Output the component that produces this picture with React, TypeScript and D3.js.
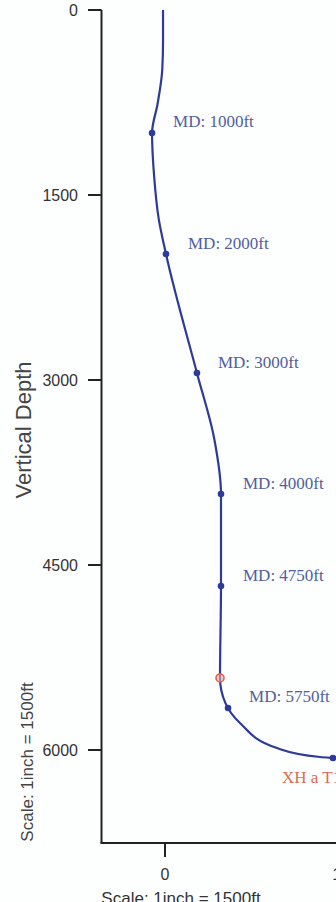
import React from "react";
import * as d3 from "d3";

const pathX = [-16, -16, -22, -60, -105, -88, -50, 8, 259, 400, 454, 454, 446, 490, 608, 908, 1257, 1362, 1650];
const pathTVD = [0, 250, 480, 760, 997, 1350, 1700, 1978, 2943, 3480, 3924, 4670, 5416, 5620, 5781, 5984, 6057, 6065, 6082];

const markerLabels = ["MD: 1000ft", "MD: 2000ft", "MD: 3000ft", "MD: 4000ft", "MD: 4750ft", "MD: 5750ft"];
const markerX = [-105, 8, 259, 454, 454, 511];
const markerTVD = [997, 1978, 2943, 3924, 4670, 5659];

const targetX = 1362;
const targetTVD = 6065;
const targetLabel = "XH a T1";

const kopX = 446;
const kopTVD = 5416;

const yTicks = [0, 1500, 3000, 4500, 6000];
const xTicks = [0, 1500];

export default function App() {
  const W = 336, H = 902;
  const x = d3.scaleLinear().domain([0, 1500]).range([165, 350]);
  const y = d3.scaleLinear().domain([0, 1500]).range([10, 195]);
  const axisX = 101.5;
  const axisY = 843;

  const pts: [number, number][] = pathX.map((v, i) => [v, pathTVD[i]]);
  const line = d3
    .line<[number, number]>()
    .x((d) => x(d[0]))
    .y((d) => y(d[1]))
    .curve(d3.curveMonotoneY);

  const lineColor = "#2d3a98";
  const textBlue = "#51609f";

  return (
    <svg
      width={W}
      height={H}
      style={{ position: "absolute", left: 0, top: 0, background: "#fdfefe" }}
    >
      {/* y axis */}
      <line x1={axisX} x2={axisX} y1={y(0)} y2={axisY} stroke="#222" strokeWidth={2} />
      {yTicks.map((t) => (
        <g key={"yt" + t}>
          <line x1={88} x2={axisX} y1={y(t)} y2={y(t)} stroke="#222" strokeWidth={2} />
          <text
            x={78}
            y={y(t) + 5.5}
            textAnchor="end"
            fontFamily="Liberation Sans, Arial, sans-serif"
            fontSize={16}
            fill="#333"
          >
            {t}
          </text>
        </g>
      ))}
      {/* x axis */}
      <line x1={axisX - 1} x2={W} y1={axisY} y2={axisY} stroke="#222" strokeWidth={2} />
      {xTicks.map((t) => (
        <g key={"xt" + t}>
          <line x1={x(t)} x2={x(t)} y1={axisY} y2={857} stroke="#222" strokeWidth={2} />
          <text
            x={x(t)}
            y={880}
            textAnchor="middle"
            fontFamily="Liberation Sans, Arial, sans-serif"
            fontSize={16}
            fill="#333"
          >
            {t}
          </text>
        </g>
      ))}
      <text
        x={181}
        y={904}
        textAnchor="middle"
        fontFamily="Liberation Sans, Arial, sans-serif"
        fontSize={17}
        fill="#333"
      >
        Scale: 1inch = 1500ft
      </text>
      <text
        transform="translate(31,430) rotate(-90)"
        textAnchor="middle"
        fontFamily="Liberation Sans, Arial, sans-serif"
        fontSize={22}
        fill="#444"
      >
        Vertical Depth
      </text>
      <text
        transform="translate(33,762) rotate(-90)"
        textAnchor="middle"
        fontFamily="Liberation Sans, Arial, sans-serif"
        fontSize={17}
        fill="#444"
      >
        Scale: 1inch = 1500ft
      </text>

      {/* well path */}
      <path d={line(pts) || ""} fill="none" stroke={lineColor} strokeWidth={2.2} />

      {markerX.map((mx, i) => (
        <g key={"m" + i}>
          <circle cx={x(mx)} cy={y(markerTVD[i])} r={3.3} fill={lineColor} />
        </g>
      ))}
      {markerLabels.map((lab, i) => {
        const offs = [[21, -6], [22, -5], [21, -5], [22, -5], [22, -5], [21, -6]];
        return (
          <text
            key={"l" + i}
            x={x(markerX[i]) + offs[i][0]}
            y={y(markerTVD[i]) + offs[i][1]}
            fontFamily="Liberation Serif, Times New Roman, serif"
            fontSize={17}
            fill={textBlue}
          >
            {lab}
          </text>
        );
      })}
      <circle cx={x(kopX)} cy={y(kopTVD)} r={4} fill="#f0b0a8" fillOpacity={0.6} stroke="#e0604f" strokeWidth={1.6} />
      <circle cx={x(targetX)} cy={y(targetTVD)} r={3.3} fill={lineColor} />
      <text
        x={282}
        y={783}
        fontFamily="Liberation Serif, Times New Roman, serif"
        fontSize={17}
        fill="#e06a55"
      >
        {targetLabel}
      </text>
    </svg>
  );
}
